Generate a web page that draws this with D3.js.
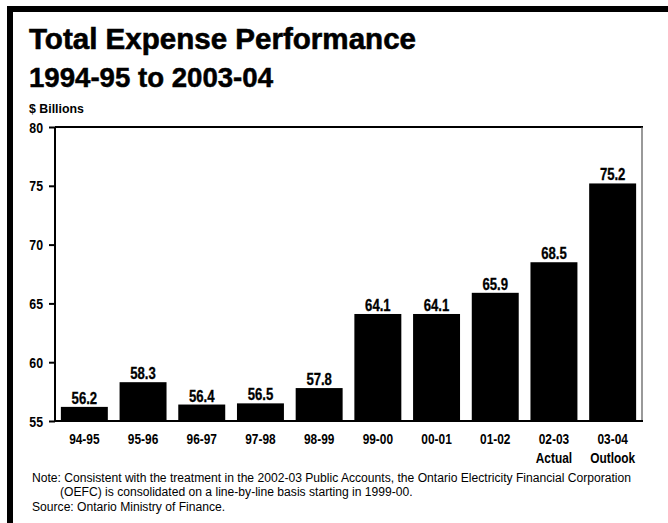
<!DOCTYPE html>
<html>
<head>
<meta charset="utf-8">
<script src="https://cdn.jsdelivr.net/npm/d3@7"></script>
<style>
  html, body { margin: 0; padding: 0; background: #fff; }
  svg { display: block; }
  text { font-family: "Liberation Sans", Arial, sans-serif; }
</style>
</head>
<body>
<svg id="chart" width="668" height="523"></svg>
<script>
const categories = ["94-95", "95-96", "96-97", "97-98", "98-99", "99-00", "00-01", "01-02", "02-03", "03-04"];
const subLabels = ["", "", "", "", "", "", "", "", "Actual", "Outlook"];
const values = [56.2, 58.3, 56.4, 56.5, 57.8, 64.1, 64.1, 65.9, 68.5, 75.2];
const yTicks = [55, 60, 65, 70, 75, 80];
const title = "Total Expense Performance";
const subtitle = "1994-95 to 2003-04";
const unitLabel = "$ Billions";
const noteLines = [
  "Note:  Consistent with the treatment in the 2002-03 Public Accounts, the Ontario Electricity Financial Corporation",
  "(OEFC) is consolidated on a line-by-line basis starting in 1999-00.",
  "Source: Ontario Ministry of Finance."
];

const svg = d3.select("#chart");
const W = 668, H = 523;
const plot = { left: 55, right: 642, top: 127, bottom: 421 };

// squeeze text horizontally to imitate a condensed face
function condense(sel, f) {
  sel.each(function () {
    const w = this.getComputedTextLength();
    if (w > 0) d3.select(this).attr("textLength", w * f).attr("lengthAdjust", "spacingAndGlyphs");
  });
  return sel;
}

// frame (top and left only)
svg.append("rect").attr("x", 7).attr("y", 6).attr("width", W - 7).attr("height", 6).attr("fill", "#000");
svg.append("rect").attr("x", 7).attr("y", 6).attr("width", 6).attr("height", H - 6).attr("fill", "#000");

// titles
svg.append("text").attr("x", 29).attr("y", 49)
  .attr("font-size", 30).attr("font-weight", "bold")
  .attr("stroke", "#000").attr("stroke-width", 0.6)
  .attr("textLength", 387).attr("lengthAdjust", "spacingAndGlyphs")
  .text(title);
svg.append("text").attr("x", 29).attr("y", 87)
  .attr("font-size", 27).attr("font-weight", "bold")
  .attr("stroke", "#000").attr("stroke-width", 0.5)
  .attr("textLength", 244).attr("lengthAdjust", "spacingAndGlyphs")
  .text(subtitle);
condense(svg.append("text").attr("x", 29).attr("y", 113)
  .attr("font-size", 13).attr("font-weight", "bold")
  .text(unitLabel), 0.95);

const x = d3.scaleBand().domain(categories).range([plot.left, plot.right])
  .paddingInner(0.2).paddingOuter(0.1);
const y = d3.scaleLinear().domain([55, 80]).range([plot.bottom, plot.top]);

// plot frame lines
svg.append("line").attr("x1", plot.left).attr("x2", plot.right + 1)
  .attr("y1", plot.top).attr("y2", plot.top).attr("stroke", "#000").attr("stroke-width", 2);
svg.append("line").attr("x1", plot.right).attr("x2", plot.right)
  .attr("y1", plot.top).attr("y2", plot.bottom).attr("stroke", "#555").attr("stroke-width", 1.2);

// bars
svg.append("g").selectAll("rect").data(values).join("rect")
  .attr("x", (d, i) => x(categories[i]))
  .attr("width", x.bandwidth())
  .attr("y", d => y(d))
  .attr("height", d => y(55) - y(d))
  .attr("fill", "#000");

// value labels
condense(svg.append("g").selectAll("text").data(values).join("text")
  .attr("x", (d, i) => x(categories[i]) + x.bandwidth() / 2)
  .attr("y", d => y(d) - 3)
  .attr("text-anchor", "middle")
  .attr("font-size", 16).attr("font-weight", "bold")
  .attr("stroke", "#000").attr("stroke-width", 0.3)
  .text(d => d.toFixed(1)), 0.82);

// y axis
const yAxis = svg.append("g").attr("transform", `translate(${plot.left},0)`)
  .call(d3.axisLeft(y).tickValues(yTicks).tickSize(6).tickPadding(6).tickFormat(d3.format("d")));
yAxis.attr("font-family", null);
yAxis.select(".domain").attr("stroke-width", 2).attr("d", `M0,${plot.top}V${plot.bottom + 1}`);
yAxis.selectAll(".tick line").attr("stroke-width", 2);
condense(yAxis.selectAll(".tick text").attr("font-size", 14).attr("font-weight", "bold")
  .attr("fill", "#000").attr("dy", "0.36em"), 0.88);

// x axis
const xAxis = svg.append("g").attr("transform", `translate(0,${plot.bottom})`)
  .call(d3.axisBottom(x).tickSize(0).tickPadding(0));
xAxis.attr("font-family", null);
xAxis.select(".domain").attr("stroke-width", 2).attr("d", `M${plot.left - 1},0H${plot.right + 1}`);
condense(xAxis.selectAll(".tick text").attr("y", 23).attr("dy", null)
  .attr("font-size", 14).attr("font-weight", "bold").attr("fill", "#000"), 0.85);
condense(xAxis.selectAll(".tick").append("text")
  .attr("y", 42)
  .attr("text-anchor", "middle").attr("fill", "#000")
  .attr("font-size", 14).attr("font-weight", "bold")
  .text((d, i) => subLabels[i]), 0.85);

// notes
const n1 = svg.append("text").attr("x", 32).attr("y", 482).attr("font-size", 12.5).text(noteLines[0]);
const f = 599 / n1.node().getComputedTextLength();
condense(n1, f);
condense(svg.append("text").attr("x", 60).attr("y", 496).attr("font-size", 12.5).text(noteLines[1]), f);
condense(svg.append("text").attr("x", 32).attr("y", 511).attr("font-size", 12.5).text(noteLines[2]), f);
</script>
</body>
</html>
